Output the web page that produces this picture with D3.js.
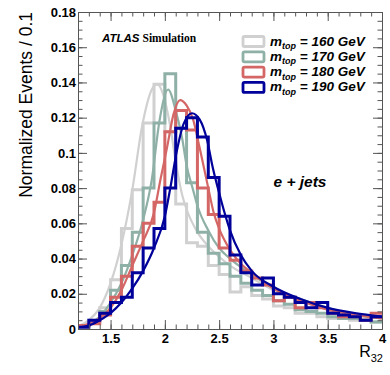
<!DOCTYPE html>
<html>
<head>
<meta charset="utf-8">
<script src="https://cdn.jsdelivr.net/npm/d3@7"></script>
<style>
  body { margin: 0; background: #fff; }
  text { font-family: "Liberation Sans", Arial, sans-serif; }
</style>
</head>
<body>
<div id="chart"></div>
<script>
// R32 distributions for four top masses, bin width 0.1
const binEdges = [1.2, 1.3, 1.4, 1.5, 1.6, 1.7, 1.8, 1.9, 2.0, 2.1, 2.2, 2.3, 2.4, 2.5, 2.6,
  2.7, 2.8, 2.9, 3.0, 3.1, 3.2, 3.3, 3.4, 3.5, 3.6, 3.7, 3.8, 3.9, 4.0];

const hist160 = [0.002, 0.005, 0.012, 0.028, 0.057, 0.079, 0.117, 0.139, 0.112, 0.071, 0.049, 0.047, 0.036, 0.031,
  0.021, 0.024, 0.019, 0.017, 0.013, 0.012, 0.009, 0.009, 0.007, 0.006, 0.006, 0.005, 0.005, 0.004];
const hist170 = [0.002, 0.004, 0.010, 0.022, 0.036, 0.055, 0.080, 0.117, 0.145, 0.114, 0.083, 0.055, 0.043, 0.037,
  0.030, 0.026, 0.022, 0.019, 0.016, 0.014, 0.011, 0.010, 0.009, 0.007, 0.006, 0.006, 0.005, 0.004];
const hist180 = [0.002, 0.003, 0.008, 0.018, 0.030, 0.047, 0.060, 0.072, 0.112, 0.124, 0.113, 0.080, 0.065, 0.046,
  0.039, 0.033, 0.029, 0.025, 0.016, 0.018, 0.012, 0.015, 0.012, 0.009, 0.007, 0.007, 0.005, 0.009];
const hist190 = [0.001, 0.005, 0.009, 0.015, 0.018, 0.032, 0.046, 0.057, 0.080, 0.114, 0.120, 0.109, 0.086, 0.064,
  0.042, 0.032, 0.025, 0.029, 0.020, 0.018, 0.015, 0.012, 0.015, 0.009, 0.008, 0.007, 0.005, 0.007];

// fitted curves as [R32, value]
const fit160 = [[1.2, 0.0015], [1.3, 0.005], [1.4, 0.012], [1.5, 0.026], [1.6, 0.048], [1.7, 0.079], [1.79, 0.115],
  [1.88, 0.136], [1.93, 0.139], [1.98, 0.134], [2.05, 0.115], [2.1, 0.095], [2.16, 0.076], [2.2, 0.068], [2.3, 0.055],
  [2.4, 0.047], [2.5, 0.041], [2.6, 0.036], [2.8, 0.029], [3.0, 0.022], [3.25, 0.016], [3.5, 0.011], [3.75, 0.008], [4.0, 0.006]];
const fit170 = [[1.2, 0.001], [1.3, 0.003], [1.4, 0.007], [1.5, 0.015], [1.6, 0.026], [1.7, 0.042], [1.8, 0.062],
  [1.88, 0.085], [1.95, 0.118], [2.03, 0.136], [2.1, 0.124], [2.16, 0.108], [2.2, 0.093], [2.26, 0.079], [2.3, 0.070],
  [2.4, 0.056], [2.5, 0.046], [2.6, 0.040], [2.8, 0.031], [3.0, 0.023], [3.25, 0.017], [3.5, 0.012], [3.75, 0.008], [4.0, 0.006]];
const fit180 = [[1.2, 0.001], [1.3, 0.003], [1.4, 0.006], [1.5, 0.012], [1.6, 0.022], [1.7, 0.036], [1.8, 0.050],
  [1.9, 0.066], [1.96, 0.085], [2.02, 0.103], [2.08, 0.122], [2.14, 0.130], [2.2, 0.127], [2.26, 0.119], [2.32, 0.103],
  [2.4, 0.080], [2.45, 0.066], [2.5, 0.057], [2.6, 0.045], [2.7, 0.037], [2.8, 0.032], [3.0, 0.023], [3.25, 0.016],
  [3.5, 0.011], [3.75, 0.008], [4.0, 0.006]];
const fit190 = [[1.2, 0.001], [1.3, 0.002], [1.4, 0.005], [1.5, 0.009], [1.6, 0.015], [1.7, 0.023], [1.8, 0.033],
  [1.9, 0.046], [2.0, 0.064], [2.05, 0.080], [2.11, 0.101], [2.17, 0.116], [2.25, 0.1225], [2.32, 0.119], [2.39, 0.107],
  [2.44, 0.092], [2.51, 0.075], [2.55, 0.066], [2.6, 0.056], [2.7, 0.042], [2.8, 0.033], [3.0, 0.024], [3.25, 0.017],
  [3.5, 0.012], [3.75, 0.009], [4.0, 0.007]];

const masses = ["160", "170", "180", "190"];
const colors = ["#d0d0d0", "#8fb0a6", "#d46666", "#00009a"];
const hists = [hist160, hist170, hist180, hist190];
const fits = [fit160, fit170, fit180, fit190];

const xTicks = [1.5, 2, 2.5, 3, 3.5, 4];
const yTicks = [0, 0.02, 0.04, 0.06, 0.08, 0.1, 0.12, 0.14, 0.16, 0.18];

const width = 390, height = 375;
const margin = { left: 78, right: 8, top: 12, bottom: 46 };

const svg = d3.select("#chart").append("svg")
  .attr("width", width)
  .attr("height", height);

svg.append("rect").attr("width", width).attr("height", height).attr("fill", "#fff");

const x = d3.scaleLinear().domain([1.2, 4]).range([margin.left, width - margin.right]);
const y = d3.scaleLinear().domain([0, 0.18]).range([height - margin.bottom, margin.top]);

svg.append("defs").append("clipPath").attr("id", "plot")
  .append("rect")
  .attr("x", x(1.2)).attr("y", y(0.18))
  .attr("width", x(4) - x(1.2)).attr("height", y(0) - y(0.18));

// histograms and fits
const g = svg.append("g").attr("clip-path", "url(#plot)");
const histLine = d3.line().x(d => x(d[0])).y(d => y(d[1]));
const fitLine = d3.line().x(d => x(d[0])).y(d => y(d[1])).curve(d3.curveMonotoneX);

hists.forEach((h, k) => {
  let pts = [];
  h.forEach((v, i) => { pts.push([binEdges[i], v], [binEdges[i + 1], v]); });
  g.append("path")
    .attr("d", histLine(pts))
    .attr("fill", "none")
    .attr("stroke", colors[k])
    .attr("stroke-width", 3)
    .attr("stroke-linejoin", "miter");
  g.append("path")
    .attr("d", fitLine(fits[k]))
    .attr("fill", "none")
    .attr("stroke", colors[k])
    .attr("stroke-width", 2.2);
});

// axes, ticks inside the frame
const yMinor = d3.range(0, 0.1801, 0.005);
const xMinor = d3.range(1.2, 4.001, 0.1);
const frameColor = "#555";

function styleAxis(sel) {
  sel.selectAll("path, line").attr("stroke", frameColor).attr("stroke-width", 1);
  sel.selectAll("text")
    .attr("fill", "#000")
    .style("font-family", "'Liberation Sans', Arial, sans-serif")
    .style("font-weight", "bold")
    .style("font-size", "13px");
}

svg.append("g").attr("transform", "translate(" + x(1.2) + ",0)")
  .call(d3.axisLeft(y).tickValues(yMinor).tickSize(-4.5).tickSizeOuter(0).tickFormat(""))
  .call(styleAxis);
svg.append("g").attr("transform", "translate(" + x(1.2) + ",0)")
  .call(d3.axisLeft(y).tickValues(yTicks).tickSize(-9).tickSizeOuter(0).tickPadding(2)
    .tickFormat(d => d3.format(".2~f")(d)))
  .call(styleAxis);

svg.append("g").attr("transform", "translate(" + x(4) + ",0)")
  .call(d3.axisRight(y).tickValues(yMinor).tickSize(-4.5).tickSizeOuter(0).tickFormat(""))
  .call(styleAxis);
svg.append("g").attr("transform", "translate(" + x(4) + ",0)")
  .call(d3.axisRight(y).tickValues(yTicks).tickSize(-9).tickSizeOuter(0).tickFormat(""))
  .call(styleAxis);

svg.append("g").attr("transform", "translate(0," + y(0) + ")")
  .call(d3.axisBottom(x).tickValues(xMinor).tickSize(-4.5).tickSizeOuter(0).tickFormat(""))
  .call(styleAxis);
svg.append("g").attr("transform", "translate(0," + y(0) + ")")
  .call(d3.axisBottom(x).tickValues(xTicks).tickSize(-9).tickSizeOuter(0).tickPadding(5)
    .tickFormat(d => d3.format("~g")(d)))
  .call(styleAxis);

svg.append("g").attr("transform", "translate(0," + y(0.18) + ")")
  .call(d3.axisTop(x).tickValues(xMinor).tickSize(-4.5).tickSizeOuter(0).tickFormat(""))
  .call(styleAxis);
svg.append("g").attr("transform", "translate(0," + y(0.18) + ")")
  .call(d3.axisTop(x).tickValues(xTicks).tickSize(-9).tickSizeOuter(0).tickFormat(""))
  .call(styleAxis);

// axis titles
svg.append("text")
  .attr("transform", "translate(32," + y(0.18) + ") rotate(-90)")
  .attr("text-anchor", "end")
  .style("font-size", "17.5px")
  .text("Normalized Events / 0.1");

const xTitle = svg.append("text")
  .attr("x", x(4) + 1)
  .attr("y", 357)
  .attr("text-anchor", "end")
  .style("font-size", "16px");
xTitle.append("tspan").text("R");
xTitle.append("tspan").attr("dy", 5).style("font-size", "11px").text("32");

// labels
const atlas = svg.append("text").attr("x", 102).attr("y", 42).style("font-size", "11.5px");
atlas.append("tspan").style("font-weight", "bold").style("font-style", "italic").text("ATLAS");
atlas.append("tspan").attr("dx", 3).style("font-weight", "bold")
  .style("font-family", "'Liberation Serif', 'Times New Roman', serif").text("Simulation");

svg.append("text")
  .attr("x", 300).attr("y", 187)
  .attr("text-anchor", "middle")
  .style("font-size", "15.5px")
  .style("font-weight", "bold")
  .style("font-style", "italic")
  .text("e + jets");

// legend
const legend = svg.append("g").attr("transform", "translate(242,36)");
masses.forEach((m, i) => {
  const row = legend.append("g").attr("transform", "translate(0," + (i * 15.3) + ")");
  row.append("rect")
    .attr("x", 1).attr("y", 0.5)
    .attr("width", 21).attr("height", 10)
    .attr("rx", 1.5)
    .attr("fill", "#fff")
    .attr("stroke", colors[i])
    .attr("stroke-width", 2.8);
  const t = row.append("text")
    .attr("x", 28).attr("y", 9.5)
    .style("font-size", "13.5px")
    .style("font-weight", "bold")
    .style("font-style", "italic");
  t.append("tspan").text("m");
  t.append("tspan").attr("dy", 3.5).style("font-size", "9px").text("top");
  t.append("tspan").attr("dy", -3.5).text("\u00a0= " + m + " GeV");
});
</script>
</body>
</html>
